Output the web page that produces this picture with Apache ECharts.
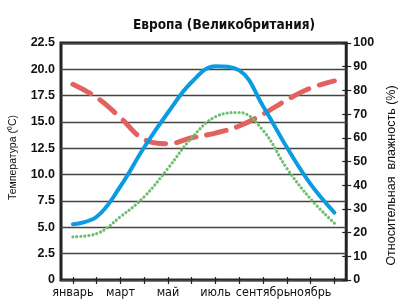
<!DOCTYPE html>
<html>
<head>
<meta charset="utf-8">
<script src="https://cdn.jsdelivr.net/npm/echarts@6/dist/echarts.min.js"></script>
<style>
html,body{margin:0;padding:0;background:#fff;}
#chart{width:406px;height:300px;}
</style>
</head>
<body>
<div id="chart"></div>
<script>
//месяцы
var months=['январь','февраль','март','апрель','май','июнь','июль','август','сентябрь','октябрь','ноябрь','декабрь'];
//температура (верхняя и нижняя кривая), °C
var tempHigh=[5.3,6.0,8.9,12.6,15.9,18.8,20.3,19.9,16.5,12.6,9.1,6.4];
var tempLow=[4.1,4.4,6.0,7.9,10.6,13.5,15.5,15.9,14.2,10.6,7.7,5.4];
//относительная влажность, %
var humidity=[82.6,77,68.5,59.3,57.5,60,62,65,70,76,81,84];

var narrow='"DejaVu Sans Condensed","Liberation Sans Narrow",sans-serif';
var sans='"Liberation Sans",Arial,sans-serif';

var myChart=echarts.init(document.getElementById('chart'));
myChart.setOption({
	animation:false,
	title:{
		text:'Европа (Великобритания)',
		left:128,
		top:13,
		textStyle:{fontFamily:narrow,fontWeight:'bold',fontSize:13.5,color:'#111'}
	},
	grid:{
		left:59,right:50,top:43,bottom:20,
		show:true,
		borderColor:'#222',
		borderWidth:3
	},
	xAxis:[
		{
			type:'category',
			data:months,
			boundaryGap:true,
			axisLine:{show:false},
			axisTick:{show:true,alignWithLabel:true,interval:0,length:4,lineStyle:{color:'#222',width:1.2}},
			axisLabel:{
				interval:0,hideOverlap:false,margin:6,fontFamily:narrow,fontSize:12.5,color:'#111',
				formatter:function(v,i){return i%2===0?v:'';}
			}
		},
		{   //внутренние засечки
			type:'category',
			data:months,
			position:'bottom',
			boundaryGap:true,
			axisLine:{show:false},
			axisTick:{show:true,inside:true,alignWithLabel:true,interval:0,length:3,lineStyle:{color:'#222',width:1.2}},
			axisLabel:{show:false}
		}
	],
	yAxis:[
		{
			type:'value',
			min:0,max:22.5,interval:2.5,
			name:'Температура (⁰C)',
			nameLocation:'middle',
			nameGap:42,
			nameTextStyle:{fontFamily:sans,fontSize:10.5,color:'#111',padding:[0,0,0,8]},
			axisLine:{show:false},
			axisTick:{show:false},
			axisLabel:{
				margin:6,fontFamily:sans,fontWeight:'bold',fontSize:12.5,color:'#111',
				formatter:function(v){return v===0?'0':v.toFixed(1);}
			},
			splitLine:{lineStyle:{color:'#444',width:1.4}}
		},
		{
			type:'value',
			min:0,max:100,interval:10,
			position:'right',
			name:'Относительная  влажность (%)',
			nameLocation:'middle',
			nameGap:36,
			nameTextStyle:{fontFamily:sans,fontSize:12.5,color:'#111',padding:[0,28,0,0]},
			axisLine:{show:false},
			axisTick:{show:true,length:5,lineStyle:{color:'#222',width:1.2}},
			axisLabel:{margin:7,fontFamily:sans,fontWeight:'bold',fontSize:12.5,color:'#111'},
			splitLine:{show:false}
		},
		{   //внутренние засечки справа
			type:'value',
			min:0,max:100,interval:10,
			position:'right',
			axisLine:{show:false},
			axisTick:{show:true,inside:true,length:4,lineStyle:{color:'#222',width:1.2}},
			axisLabel:{show:false},
			splitLine:{show:false}
		}
	],
	series:[
		{
			name:'влажность',
			type:'line',
			yAxisIndex:1,
			data:humidity,
			smooth:0.4,
			symbol:'none',
			lineStyle:{color:'#e3625f',width:5,type:[20,11],cap:'round'},
			z:3
		},
		{
			name:'макс',
			type:'line',
			data:tempHigh,
			smooth:0.4,
			symbol:'none',
			lineStyle:{color:'#0b9be0',width:4,cap:'round'},
			z:4
		},
		{
			name:'мин',
			type:'line',
			data:tempLow,
			smooth:0.4,
			symbol:'none',
			lineStyle:{color:'#6cbf6c',width:3.2,type:[0.01,4],cap:'round'},
			z:5
		}
	]
});
</script>
</body>
</html>
